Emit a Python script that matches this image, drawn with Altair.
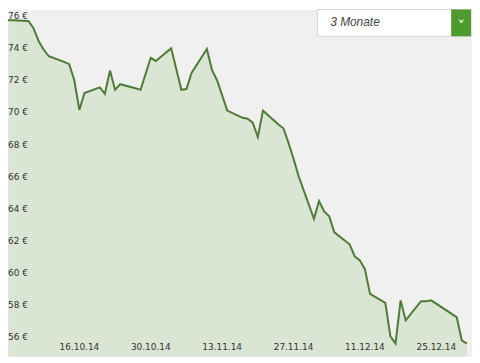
import altair as alt
import pandas as pd

# ---- data ----
dates = [
    "2014-10-02", "2014-10-03", "2014-10-06", "2014-10-07", "2014-10-08", "2014-10-09", "2014-10-10",
    "2014-10-13", "2014-10-14", "2014-10-15", "2014-10-16", "2014-10-17",
    "2014-10-20", "2014-10-21", "2014-10-22", "2014-10-23", "2014-10-24",
    "2014-10-27", "2014-10-28", "2014-10-29", "2014-10-30", "2014-10-31",
    "2014-11-03", "2014-11-04", "2014-11-05", "2014-11-06", "2014-11-07",
    "2014-11-10", "2014-11-11", "2014-11-12", "2014-11-13", "2014-11-14",
    "2014-11-17", "2014-11-18", "2014-11-19", "2014-11-20", "2014-11-21",
    "2014-11-24", "2014-11-25", "2014-11-26", "2014-11-27", "2014-11-28",
    "2014-12-01", "2014-12-02", "2014-12-03", "2014-12-04", "2014-12-05",
    "2014-12-08", "2014-12-09", "2014-12-10", "2014-12-11", "2014-12-12",
    "2014-12-15", "2014-12-16", "2014-12-17", "2014-12-18", "2014-12-19",
    "2014-12-22", "2014-12-23", "2014-12-24",
    "2014-12-29", "2014-12-30", "2014-12-31",
]
prices = [
    76.2, 76.2, 76.15, 75.7, 74.9, 74.35, 73.95,
    73.6, 73.45, 72.45, 70.6, 71.65,
    72.0, 71.6, 73.05, 71.85, 72.2,
    71.95, 71.85, 72.85, 73.85, 73.65,
    74.45, 73.15, 71.85, 71.9, 72.9,
    74.4, 73.1, 72.45, 71.5, 70.55,
    70.1, 70.05, 69.8, 68.9, 70.55,
    69.7, 69.45, 68.55, 67.55, 66.45,
    63.8, 64.9, 64.25, 63.95, 62.95,
    62.2, 61.45, 61.2, 60.65, 59.1,
    58.55, 56.45, 56.0, 58.7, 57.45,
    58.65, 58.65, 58.7,
    57.65, 56.2, 56.0,
]
price_ticks = [56, 58, 60, 62, 64, 66, 68, 70, 72, 74, 76]
price_tick_labels = ["56 €", "58 €", "60 €", "62 €", "64 €", "66 €", "68 €", "70 €", "72 €", "74 €", "76 €"]
date_ticks = ["2014-10-16", "2014-10-30", "2014-11-13", "2014-11-27", "2014-12-11", "2014-12-25"]
date_tick_labels = ["16.10.14", "30.10.14", "13.11.14", "27.11.14", "11.12.14", "25.12.14"]
period_label = "3 Monate"

W, H = 468, 350


def ms(d):
    return int(pd.Timestamp(d, tz="UTC").timestamp() * 1000)


x_scale = alt.Scale(type="utc", domain=[ms("2014-10-02"), ms("2015-01-01")])
y_scale = alt.Scale(domain=[55.195, 76.867], zero=False, nice=False)

series = pd.DataFrame({"date": dates, "price": prices})
yticks_df = pd.DataFrame({"price": price_ticks, "label": price_tick_labels})
xticks_df = pd.DataFrame({"date": date_ticks, "label": date_tick_labels})
menu_df = pd.DataFrame({"label": [period_label]})

grid_axis_common = dict(labels=False, ticks=False, domain=False, grid=True,
                        gridColor="#ffffff", gridWidth=1.5, title=None)

area = alt.Chart(series).mark_area(color="#b8d4aa", opacity=0.4, clip=True).encode(
    x=alt.X("date:T", scale=x_scale,
            axis=alt.Axis(values=[ms(d) for d in date_ticks], **grid_axis_common)),
    y=alt.Y("price:Q", scale=y_scale,
            axis=alt.Axis(values=price_ticks, **grid_axis_common)),
)

line = alt.Chart(series).mark_line(color="#4e7b36", strokeWidth=2, clip=True).encode(
    x=alt.X("date:T", scale=x_scale, axis=None),
    y=alt.Y("price:Q", scale=y_scale, axis=None),
)

ylabels = alt.Chart(yticks_df).mark_text(
    align="left", baseline="bottom", dy=-2, font="DejaVu Sans", fontSize=9, color="#333333"
).encode(
    x=alt.value(0),
    y=alt.Y("price:Q", scale=y_scale, axis=None),
    text="label:N",
)

xlabels = alt.Chart(xticks_df).mark_text(
    align="center", baseline="middle", font="DejaVu Sans", fontSize=9, color="#333333"
).encode(
    x=alt.X("date:T", scale=x_scale, axis=None),
    y=alt.value(340),
    text="label:N",
)

menu_box = alt.Chart(menu_df).mark_rect(fill="#ffffff", stroke="#d4d4d4", strokeWidth=1).encode(
    x=alt.value(312), x2=alt.value(467), y=alt.value(0), y2=alt.value(27)
)
menu_button = alt.Chart(menu_df).mark_rect(fill="#4d9a2e").encode(
    x=alt.value(447), x2=alt.value(467), y=alt.value(0), y2=alt.value(27)
)
menu_text = alt.Chart(menu_df).mark_text(
    align="left", baseline="middle", font="Liberation Sans", fontStyle="italic",
    fontSize=12, color="#444444"
).encode(x=alt.value(325), y=alt.value(13), text="label:N")
menu_chevron = alt.Chart(menu_df).mark_text(
    align="center", baseline="middle", font="DejaVu Sans", fontSize=15,
    fontWeight="bold", color="#e8f3e2", text="˅"
).encode(x=alt.value(457), y=alt.value(17))

chart = alt.layer(
    area, line, ylabels, xlabels, menu_box, menu_button, menu_text, menu_chevron
).properties(
    width=W, height=H, padding=0, autosize=alt.AutoSizeParams(type="none")
).configure_view(
    fill="#f0f0f0", stroke="transparent"
)

chart.save("out.html", embed_options={"renderer": "svg", "actions": False})
